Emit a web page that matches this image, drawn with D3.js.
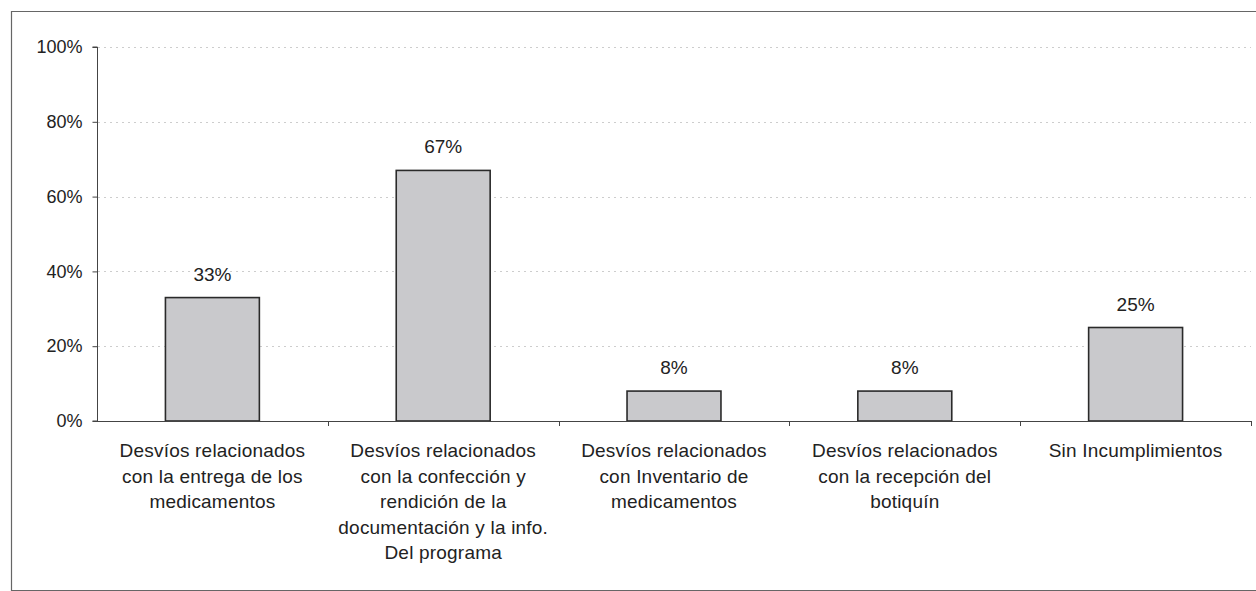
<!DOCTYPE html>
<html>
<head>
<meta charset="utf-8">
<script src="https://cdn.jsdelivr.net/npm/d3@7"></script>
<style>
  html, body { margin: 0; padding: 0; background: #fff; }
  svg { display: block; }
  text { font-family: "Liberation Sans", Arial, sans-serif; fill: #222; }
</style>
</head>
<body>
<svg id="chart" width="1256" height="591"></svg>
<script>
const categories = [
  "Desvíos relacionados\ncon la entrega de los\nmedicamentos",
  "Desvíos relacionados\ncon la confección y\nrendición de la\ndocumentación y la info.\nDel programa",
  "Desvíos relacionados\ncon Inventario de\nmedicamentos",
  "Desvíos relacionados\ncon la recepción del\nbotiquín",
  "Sin Incumplimientos"
];
const values = [0.33, 0.67, 0.08, 0.08, 0.25];
const valueLabels = ["33%", "67%", "8%", "8%", "25%"];
const yTicks = [0, 0.2, 0.4, 0.6, 0.8, 1.0];

const svg = d3.select("#chart");

// outer frame
svg.append("path")
  .attr("d", "M1260,11.5 H11.5 V590.5 H1260")
  .attr("fill", "none").attr("stroke", "#666").attr("stroke-width", 1.2);

const x = d3.scaleBand().domain(categories).range([97, 1251])
  .paddingInner(0.593).paddingOuter(0.2965);
const y = d3.scaleLinear().domain([0, 1]).range([421, 47]);

// gridlines
svg.append("g").selectAll("line").data(yTicks.filter(d => d > 0)).join("line")
  .attr("x1", 98).attr("x2", 1251)
  .attr("y1", d => Math.round(y(d)) + 0.5).attr("y2", d => Math.round(y(d)) + 0.5)
  .attr("stroke", "#cdcdcd").attr("stroke-width", 1).attr("stroke-dasharray", "2,4");

// bars
svg.append("g").selectAll("rect").data(values).join("rect")
  .attr("x", (d, i) => x(categories[i]))
  .attr("y", d => y(d))
  .attr("width", x.bandwidth())
  .attr("height", d => y(0) - y(d))
  .attr("fill", "#c9c9cc")
  .attr("stroke", "#2a2a2a").attr("stroke-width", 1.6);

// value labels
svg.append("g").selectAll("text").data(values).join("text")
  .attr("x", (d, i) => x(categories[i]) + x.bandwidth() / 2)
  .attr("y", d => y(d) - 17)
  .attr("text-anchor", "middle")
  .attr("font-size", 19)
  .text((d, i) => valueLabels[i]);

// y axis
const yAxis = d3.axisLeft(y).tickValues(yTicks).tickFormat(d3.format(".0%")).tickSize(5).tickPadding(10);
const gy = svg.append("g").attr("transform", "translate(97.5,0)").call(yAxis);
gy.select(".domain").attr("stroke", "#444").attr("d", "M-5," + y(1) + "H0V" + y(0) + "H-5");
gy.selectAll(".tick line").attr("stroke", "#444");
gy.selectAll(".tick text").attr("font-size", 18).attr("fill", "#222")
  .attr("font-family", "'Liberation Sans', Arial, sans-serif");

// x axis line and ticks at band boundaries
const gx = svg.append("g");
gx.append("line").attr("x1", 97).attr("x2", 1251)
  .attr("y1", y(0) + 0.5).attr("y2", y(0) + 0.5).attr("stroke", "#444").attr("stroke-width", 1);
const boundaries = categories.map((c, i) => x(c) - x.step() * x.paddingInner() / 2 + x.step());
gx.selectAll("line.tk").data(boundaries).join("line").attr("class", "tk")
  .attr("x1", d => Math.round(d) + 0.5).attr("x2", d => Math.round(d) + 0.5)
  .attr("y1", y(0)).attr("y2", y(0) + 5).attr("stroke", "#444");

// category labels
const lab = svg.append("g").selectAll("text").data(categories).join("text")
  .attr("text-anchor", "middle")
  .attr("font-size", 19)
  .attr("letter-spacing", 0.2)
  .attr("transform", c => `translate(${x(c) + x.bandwidth() / 2},457)`);
lab.each(function(c) {
  const t = d3.select(this);
  c.split("\n").forEach((line, j) => {
    t.append("tspan").attr("x", 0).attr("y", j * 25.5).text(line);
  });
});
</script>
</body>
</html>
